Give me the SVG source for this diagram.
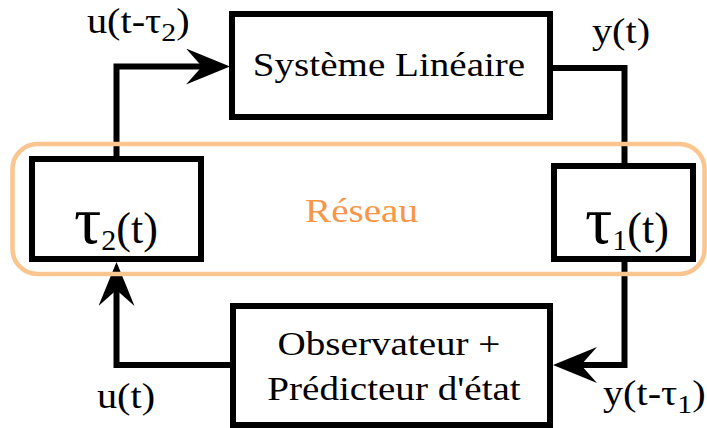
<svg xmlns="http://www.w3.org/2000/svg" width="707" height="428" viewBox="0 0 707 428">
<style>
.box{fill:#fff;stroke:#000;stroke-width:6}
.ln{fill:none;stroke:#000;stroke-width:6}
.t{font-family:"Liberation Serif","Times New Roman",serif;font-size:34px;fill:#000}
.net{fill:none;stroke:#fac58e;stroke-width:4.5}
</style>
<defs>
<marker id="ah" viewBox="0 0 44 36" refX="16" refY="18" markerWidth="44" markerHeight="36" markerUnits="userSpaceOnUse" orient="auto">
<path d="M0,0 L44,18 L0,36 L16,18 Z" fill="#000"/>
</marker>
</defs>
<rect width="707" height="428" fill="#fff"/>
<g id="connectors">
<path class="ln" d="M116.5,159 V66.5 H202" marker-end="url(#ah)"/>
<path class="ln" d="M550,68 H624.5 V166"/>
<path class="ln" d="M624.5,259 V365 H581" marker-end="url(#ah)"/>
<path class="ln" d="M233,365 H116.5 V290" marker-end="url(#ah)"/>
</g>
<g id="system">
<rect class="box" x="232" y="14" width="318" height="103"/>
<text class="t" text-anchor="middle" transform="translate(389,76) scale(1.15,1)">Système Linéaire</text>
</g>
<g id="observer">
<rect class="box" x="233" y="306" width="317" height="119"/>
<text class="t" text-anchor="middle" transform="translate(389,355) scale(1.15,1)">Observateur +</text>
<text class="t" text-anchor="middle" transform="translate(394,400) scale(1.15,1)">Prédicteur d'état</text>
</g>
<g id="tau2">
<rect class="box" x="32" y="159" width="169" height="100"/>
<text class="t" x="74" y="243" style="font-size:44px"><tspan style="font-size:68px">τ</tspan><tspan dy="7" style="font-size:30px">2</tspan><tspan dy="-7">(t)</tspan></text>
</g>
<g id="tau1">
<rect class="box" x="554" y="166" width="139" height="93"/>
<text class="t" x="585" y="243" style="font-size:44px"><tspan style="font-size:68px">τ</tspan><tspan dy="7" style="font-size:30px">1</tspan><tspan dy="-7">(t)</tspan></text>
</g>
<g id="network">
<rect class="net" x="12.5" y="144" width="692" height="130" rx="25"/>
<text class="t" text-anchor="middle" style="fill:#f79646" transform="translate(361.5,222) scale(1.15,1)">Réseau</text>
</g>
<g id="labels">
<text class="t" style="font-size:35px" transform="translate(87,33) scale(1.15,1)">u(t-τ<tspan dy="8" style="font-size:26px">2</tspan><tspan dy="-8">)</tspan></text>
<text class="t" style="font-size:35px" transform="translate(592,43) scale(1.15,1)">y(t)</text>
<text class="t" style="font-size:35px" transform="translate(97,408) scale(1.15,1)">u(t)</text>
<text class="t" style="font-size:35px" transform="translate(603,405) scale(1.15,1)">y(t-τ<tspan dy="8" style="font-size:26px">1</tspan><tspan dy="-8">)</tspan></text>
</g>
</svg>
